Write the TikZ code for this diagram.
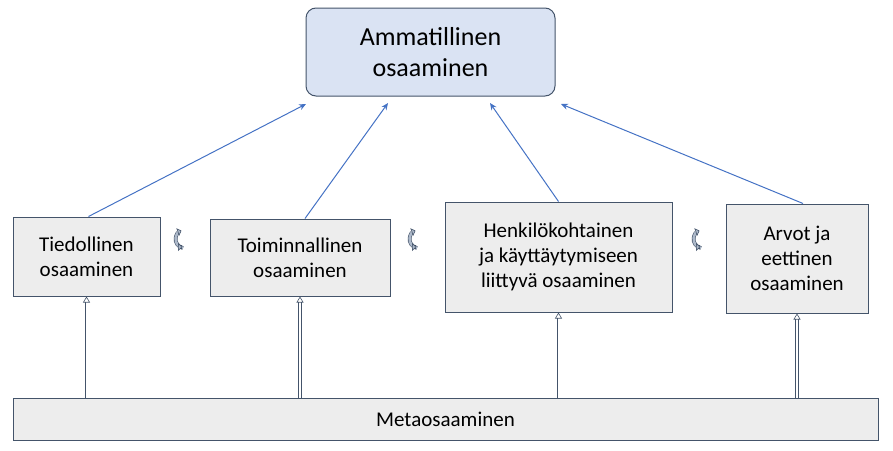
\documentclass[tikz,border=0pt]{standalone}
\usepackage{fontspec}
\setmainfont{Carlito}
\usetikzlibrary{arrows.meta}
\definecolor{topfill}{RGB}{218,227,243}
\definecolor{boxfill}{RGB}{237,237,237}
\definecolor{edge}{RGB}{68,84,106}
\definecolor{arr}{RGB}{68,114,196}
\definecolor{cyc}{RGB}{173,185,202}
\tikzset{
 box/.style={draw=edge,fill=boxfill,line width=1pt,align=center,font=\fontsize{21}{25}\selectfont,inner sep=0pt},
 up/.style={draw=arr,line width=1pt,-{Stealth[length=7pt,width=6pt]}},
 dbl/.style={double=white,draw=edge,double distance=2pt,line width=0.6pt,-{Triangle[open,length=6pt,width=7pt]}},
 cy/.style={draw=edge,line width=0.6pt,double=cyc,double distance=2.5pt,-{Triangle[length=4pt,width=8pt,fill=cyc]}}
}
\begin{document}
\begin{tikzpicture}[x=1pt,y=-1pt]
\useasboundingbox (0,0) rectangle (893,450);
\node[box,fill=topfill,rounded corners=10pt,minimum width=249pt,minimum height=88pt,font=\fontsize{26}{31}\selectfont] (top) at (430.5,52) {Ammatillinen\\osaaminen};
\node[box,minimum width=147pt,minimum height=79pt] (a) at (86.5,256.5) {Tiedollinen\\osaaminen};
\node[box,minimum width=180pt,minimum height=77pt] (b) at (300,257.5) {Toiminnallinen\\osaaminen};
\node[box,minimum width=227pt,minimum height=110pt] (c) at (558.5,257) {Henkilökohtainen\\ja käyttäytymiseen\\liittyvä osaaminen};
\node[box,minimum width=142pt,minimum height=109pt] (d) at (797,258.5) {Arvot ja\\eettinen\\osaaminen};
\node[box,minimum width=865pt,minimum height=42pt] (m) at (445.5,419) {Metaosaaminen};
\coordinate (t1) at (306,104); \coordinate (t2) at (388,103);
\coordinate (t3) at (490,103); \coordinate (t4) at (561,104);
\draw[up] (a.north) ++(2,0) -- (t1);
\draw[up] (b.north) ++(5,0) -- (t2);
\draw[up] (c.north) -- (t3);
\draw[up] (d.north) ++(6,0) -- (t4);
\draw[dbl] (m.north -| a.south) -- (a.south);
\draw[dbl] (m.north -| b.south) -- (b.south);
\draw[dbl] (m.north -| c.south) -- (c.south);
\draw[dbl] (m.north -| d.south) -- (d.south);
\foreach \n/\x in {p/185,q/419,r/703}{
 \coordinate (\n) at (\x,257);
 \draw[cy] (\n) ++(-2,-9) arc[start angle=100,end angle=250,x radius=9pt,y radius=-9pt] ;
}
\foreach \n in {p,q,r}{
 \draw[cy] (\n) ++(-3,-10) ++(0,0) -- +(0.1,0);
}
\end{tikzpicture}
\end{document}
